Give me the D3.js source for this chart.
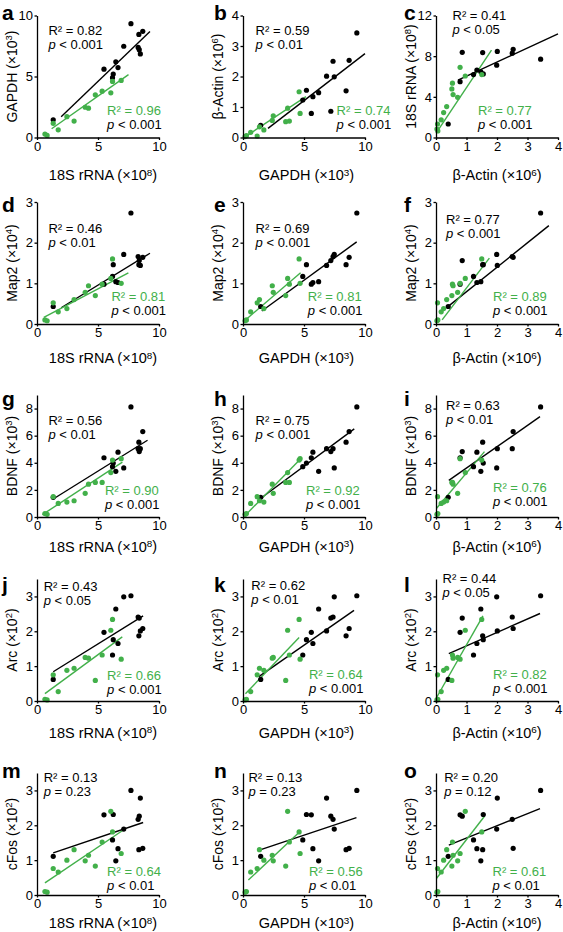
<!DOCTYPE html>
<html><head><meta charset="utf-8">
<script src="https://cdn.jsdelivr.net/npm/d3@7"></script>
<style>
body{margin:0;background:#fff}
svg{display:block}
text{font-family:"Liberation Sans",Arial,Helvetica,sans-serif}
</style>
</head><body>
<svg id="chart" width="563" height="932"></svg>
<script>
// ---------------- DATA ----------------
// black group, one entry per sample
const blackRRNA  = [1.33,6.19,6.25,5.49,6.64,6.46,8.47,8.38,8.29,7.11,8.35,8.67,7.70];
const blackGAPDH = [1.45,4.90,5.20,5.60,5.73,6.20,6.85,7.20,7.38,7.48,8.45,8.70,9.33];
const blackActin = [0.40,1.23,1.55,0.79,1.34,1.47,2.01,0.86,2.50,1.99,1.53,2.53,3.43];
const blackMap2  = [0.43,1.17,1.46,0.98,1.02,1.04,1.44,1.56,1.66,1.71,1.46,1.64,2.73];
const blackBDNF  = [1.45,3.71,3.98,4.37,4.78,3.37,5.04,4.83,5.04,3.62,5.52,6.30,8.12];
const blackArc   = [0.62,1.32,1.76,1.97,1.65,2.64,2.01,2.38,2.41,2.99,1.87,2.08,3.02];
const blackCFos  = [1.11,1.58,2.31,2.30,1.33,0.98,2.78,2.26,2.17,1.89,1.30,1.34,3.00];
// green group
const greenRRNA  = [0.65,0.83,1.33,1.74,2.45,3.04,3.95,4.22,4.78,5.34,6.05,6.19,6.90];
const greenGAPDH = [0.28,0.17,1.16,0.63,1.71,1.35,2.48,2.40,3.50,3.80,3.66,4.60,4.68];
const greenActin = [0.06,0.03,0.05,0.17,0.25,0.35,0.71,0.56,0.52,0.54,0.96,1.50,0.79];
const greenMap2  = [0.10,0.08,0.52,0.30,0.38,0.60,0.78,0.94,0.70,0.98,1.12,1.60,1.00];
const greenBDNF  = [0.25,0.20,1.50,1.00,1.10,1.20,1.75,2.42,2.55,2.55,3.28,4.20,4.30];
const greenArc   = [0.05,0.03,0.75,0.27,0.88,0.94,1.25,1.23,0.59,1.32,2.03,2.34,1.20];
const greenCFos  = [0.10,0.08,0.76,0.66,1.00,1.30,0.98,1.14,0.83,1.52,2.40,1.81,1.19];

// panels
const panelLetters = ["a","b","c","d","e","f","g","h","i","j","k","l","m","n","o"];
const panelXVar = ["rRNA","GAPDH","Actin","rRNA","GAPDH","Actin","rRNA","GAPDH","Actin","rRNA","GAPDH","Actin","rRNA","GAPDH","Actin"];
const panelYVar = ["GAPDH","Actin","rRNA","Map2","Map2","Map2","BDNF","BDNF","BDNF","Arc","Arc","Arc","cFos","cFos","cFos"];

// statistics text
const blackR2 = ["0.82","0.59","0.41","0.46","0.69","0.77","0.56","0.75","0.63","0.43","0.62","0.44","0.13","0.13","0.20"];
const blackP  = ["< 0.001","< 0.01","< 0.05","< 0.01","< 0.001","< 0.001","< 0.01","< 0.001","< 0.01","< 0.05","< 0.01","< 0.05","= 0.23","= 0.23","= 0.12"];
const greenR2 = ["0.96","0.74","0.77","0.81","0.81","0.89","0.90","0.92","0.76","0.66","0.64","0.82","0.64","0.56","0.61"];
const greenP  = ["< 0.001","< 0.001","< 0.001","< 0.001","< 0.001","< 0.001","< 0.001","< 0.001","< 0.001","< 0.001","< 0.001","< 0.001","< 0.01","< 0.01","< 0.01"];

// fitted line end points [x1, y1, x2, y2] as drawn
const blackLines = [[1.98,1.71,9.26,8.68],[2.05,0.30,10.0,2.75],[0.72,5.64,4.0,10.2],
  [1.98,0.40,9.26,1.74],[1.54,0.32,9.32,2.02],[0.38,0.42,3.70,2.42],
  [1.33,1.33,9.06,5.66],[1.38,1.33,9.12,6.50],[0.42,2.70,3.41,7.40],
  [1.33,0.84,8.70,2.44],[1.30,0.70,9.10,2.60],[0.42,1.36,3.41,2.51],
  [1.33,1.21,8.70,2.08],[1.46,1.30,9.30,2.22],[0.42,1.43,3.41,2.48]];
const greenLines = [[1.20,0.72,7.50,5.15],[0.20,0.03,5.16,1.34],[0.02,0.50,1.82,8.60],
  [0.56,0.16,7.49,1.26],[0.20,0.10,4.72,1.26],[0.20,0.10,1.75,1.62],
  [0.44,0.17,7.00,4.05],[0.18,0.12,4.65,4.22],[0.02,0.65,1.59,4.82],
  [0.65,0.21,6.99,1.84],[0.20,0.21,4.60,1.82],[0.02,0.10,1.54,2.44],
  [0.65,0.35,7.14,1.88],[0.44,0.43,4.74,1.84],[0.02,0.48,1.59,2.26]];

// axes
const xDomainOf = {rRNA:[0,10], GAPDH:[0,10], Actin:[0,4]};
const xTicksOf  = {rRNA:[0,5,10], GAPDH:[0,5,10], Actin:[0,1,2,3,4]};
const yDomainOf = {GAPDH:[0,10], Actin:[0,4], rRNA:[0,12], Map2:[0,3], BDNF:[0,9], Arc:[0,3.5], cFos:[0,3.5]};
const yTicksOf  = {GAPDH:[0,5,10], Actin:[0,1,2,3,4], rRNA:[0,4,8,12], Map2:[0,1,2,3], BDNF:[0,2,4,6,8], Arc:[0,1,2,3], cFos:[0,1,2,3]};
const labelName = {rRNA:"18S rRNA", GAPDH:"GAPDH", Actin:"β-Actin", Map2:"Map2", BDNF:"BDNF", Arc:"Arc", cFos:"cFos"};
const labelExp  = {rRNA:"8", GAPDH:"3", Actin:"6", Map2:"4", BDNF:"3", Arc:"2", cFos:"2"};

// ---------------- LAYOUT ----------------
const colLeft = [37, 243, 436];
const rowTop = [15.5, 202, 395, 579, 773];
const plotW = 122, plotH = 122;
const xTitleBase = [180, 363, 551.5, 737.5, 928];
const xTitleShift = [5, 2.5, 0];
const letterX = [2, 214, 404];
const letterBase = [20, 212, 406, 592, 778];
// annotation offsets relative to plot top-left: [dx, dy(baseline)]
const blackTextPos = [[11.4,19.5],[12.6,19.5],[16.5,4.5],[11.4,30.7],[12.6,30.7],[10,22.3],
  [11.4,29.7],[12.6,30.3],[10,15.3],[6.7,11.7],[8.3,10.7],[6.5,4],[6.7,9.3],[5.4,9.3],[8.2,9.3]];
const greenTextPos = [[70.1,99.5],[93.6,99.5],[42,99.5],[74.4,99],[64.8,99],[57,99],
  [67.9,100.3],[63,100.3],[57,97],[70.1,100.7],[65.9,99.7],[57,99.7],[70.1,102.7],[65.9,102.7],[56.5,102.7]];

const GREEN = "#42b04a";
const series = {
  black:{rRNA:blackRRNA,GAPDH:blackGAPDH,Actin:blackActin,Map2:blackMap2,BDNF:blackBDNF,Arc:blackArc,cFos:blackCFos},
  green:{rRNA:greenRRNA,GAPDH:greenGAPDH,Actin:greenActin,Map2:greenMap2,BDNF:greenBDNF,Arc:greenArc,cFos:greenCFos}
};
const colorOf = {black:"#000", green:GREEN};

const svg = d3.select("#chart");
const fmt = d3.format("~g");

function addLabel(sel, v){
  sel.text(labelName[v] + " (×10");
  sel.append("tspan").attr("dy","-0.45em").attr("font-size","0.68em").text(labelExp[v]);
  sel.append("tspan").attr("dy","0.3em").text(")");
}

panelLetters.forEach((letter, i) => {
  const row = Math.floor(i/3), col = i % 3;
  const xv = panelXVar[i], yv = panelYVar[i];
  const left = colLeft[col], top = rowTop[row];
  const x = d3.scaleLinear().domain(xDomainOf[xv]).range([left, left + plotW]);
  const y = d3.scaleLinear().domain(yDomainOf[yv]).range([top + plotH, top]);
  const g = svg.append("g");

  // lines
  [["black", blackLines[i]], ["green", greenLines[i]]].forEach(([s, L]) => {
    g.append("line").attr("x1", x(L[0])).attr("y1", y(L[1])).attr("x2", x(L[2])).attr("y2", y(L[3]))
      .attr("stroke", colorOf[s]).attr("stroke-width", 1.4);
  });

  // points
  ["black","green"].forEach(s => {
    const xs = series[s][xv], ys = series[s][yv];
    g.selectAll(null).data(d3.range(xs.length)).join("circle")
      .attr("cx", k => x(xs[k])).attr("cy", k => y(ys[k])).attr("r", 2.6)
      .attr("fill", colorOf[s]);
  });

  // axes
  const ax = g.append("g").attr("transform", `translate(0,${top + plotH})`)
    .call(d3.axisBottom(x).tickValues(xTicksOf[xv]).tickFormat(fmt).tickSize(2.5).tickPadding(1.5).tickSizeOuter(0));
  const ay = g.append("g").attr("transform", `translate(${left},0)`)
    .call(d3.axisLeft(y).tickValues(yTicksOf[yv]).tickFormat(fmt).tickSize(2.5).tickPadding(1.5).tickSizeOuter(0));
  [ax, ay].forEach(a => {
    a.attr("font-family", null).attr("font-size", null);
    a.select(".domain").attr("stroke", "#000").attr("stroke-width", 1.3);
    a.selectAll(".tick line").attr("stroke", "#000").attr("stroke-width", 1.3);
    a.selectAll(".tick text").attr("fill", "#000").attr("font-size", "13px");
  });

  // axis titles
  g.append("text").attr("x", left + plotW/2 + xTitleShift[col]).attr("y", xTitleBase[row])
    .attr("text-anchor", "middle").attr("font-size", "14.5px").call(addLabel, xv);
  g.append("text").attr("transform", `translate(${left - 25.5},${top + plotH/2}) rotate(-90)`)
    .attr("text-anchor", "middle").attr("dy", "0.36em").attr("font-size", "14px").call(addLabel, yv);

  // panel letter
  g.append("text").attr("x", letterX[col]).attr("y", letterBase[row])
    .attr("font-weight", "bold").attr("font-size", "21px").text(letter);

  // statistics
  const bt = blackTextPos[i], gt = greenTextPos[i];
  g.append("text").attr("x", left + bt[0]).attr("y", top + bt[1]).attr("font-size", "13px").text("R² = " + blackR2[i]);
  const bp = g.append("text").attr("x", left + bt[0]).attr("y", top + bt[1] + 14).attr("font-size", "13px");
  bp.append("tspan").attr("font-style", "italic").text("p");
  bp.append("tspan").text(" " + blackP[i]);
  g.append("text").attr("x", left + gt[0]).attr("y", top + gt[1]).attr("font-size", "13px").attr("fill", GREEN).text("R² = " + greenR2[i]);
  const gp = g.append("text").attr("x", left + gt[0]).attr("y", top + gt[1] + 14).attr("font-size", "13px");
  gp.append("tspan").attr("font-style", "italic").text("p");
  gp.append("tspan").text(" " + greenP[i]);
});
</script>
</body></html>
